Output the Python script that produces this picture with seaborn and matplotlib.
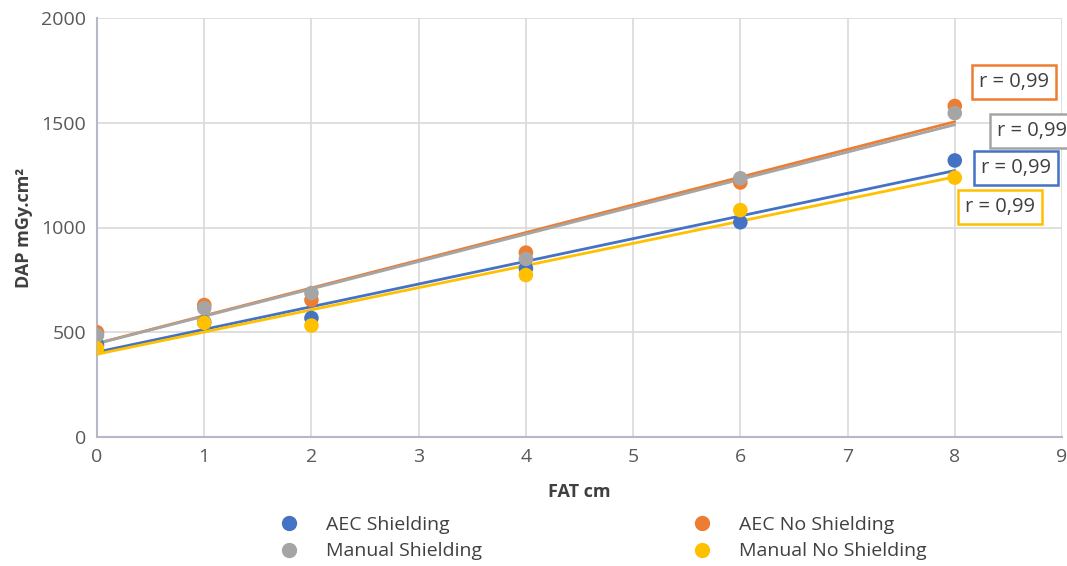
import numpy as np
import pandas as pd
import matplotlib
matplotlib.use("Agg")
import matplotlib.pyplot as plt
import seaborn as sns
from matplotlib.lines import Line2D

fat = [0, 1, 2, 4, 6, 8]
aec_shielding = [440, 548, 568, 805, 1025, 1320]
aec_no_shielding = [500, 630, 654, 880, 1215, 1580]
manual_shielding = [485, 615, 687, 850, 1235, 1546]
manual_no_shielding = [423, 545, 532, 773, 1083, 1238]

series_names = ["AEC Shielding", "AEC No Shielding", "Manual Shielding", "Manual No Shielding"]
series_vals = [aec_shielding, aec_no_shielding, manual_shielding, manual_no_shielding]
colors = ["#4472C4", "#ED7D31", "#A5A5A5", "#FFC000"]
r_labels = ["r = 0,99", "r = 0,99", "r = 0,99", "r = 0,99"]

df = pd.DataFrame({
    "FAT": np.tile(fat, len(series_names)),
    "DAP": np.concatenate(series_vals),
    "Series": np.repeat(series_names, len(fat)),
})

sns.set_theme(style="white")
plt.rcParams['font.family'] = ['Open Sans', 'DejaVu Sans']

fig = plt.figure(figsize=(10.67, 5.66), dpi=100)
ax = fig.add_axes([97/1067, 1-437/566, (1062-97)/1067, (437-18)/566])

# trend lines
for name, col in zip(series_names, colors):
    sub = df[df["Series"] == name]
    sns.regplot(data=sub, x="FAT", y="DAP", ax=ax, scatter=False, ci=None,
                color=col, line_kws={"lw": 2.0, "zorder": 2})

sns.scatterplot(data=df, x="FAT", y="DAP", hue="Series", hue_order=series_names,
                palette=colors, s=110, edgecolor="none", ax=ax, zorder=3, legend=False)

ax.set_xlim(0, 9)
ax.set_ylim(0, 2000)
ax.set_xticks(range(0, 10))
ax.set_yticks([0, 500, 1000, 1500, 2000])
ax.grid(True, color="#D9D9D9", lw=1.2)
ax.set_axisbelow(True)
for s in ["top", "right"]:
    ax.spines[s].set_visible(False)
ax.spines["left"].set_color("#B4B8C8")
ax.spines["bottom"].set_color("#B4B8C8")
ax.spines["left"].set_linewidth(1.5)
ax.spines["bottom"].set_linewidth(1.5)
ax.tick_params(axis="both", labelsize=14, colors="#595959", length=0, pad=8)
ax.set_xlabel("FAT cm", fontsize=13, fontweight="bold", color="#404040", labelpad=12)
ax.set_ylabel("DAP mGy.cm²", fontsize=13, fontweight="bold", color="#404040", labelpad=6)

# r labels
label_pos = [(8.57, 1284), (8.55, 1695), (8.72, 1460), (8.42, 1098)]
for (xp, yp), col, txt in zip(label_pos, colors, r_labels):
    ax.text(xp, yp, txt, ha="center", va="center", fontsize=14.5, color="#404040",
            bbox=dict(boxstyle="square,pad=0.35", fc="white", ec=col, lw=1.8),
            zorder=5, clip_on=False)

# legend (row-wise order: AEC S, AEC NS / Manual S, Manual NS)
order = [0, 2, 1, 3]
handles = [Line2D([], [], marker="o", ls="none", color=colors[i], markersize=10) for i in order]
labels = [series_names[i] for i in order]
fig.legend(handles, labels, loc="center", ncol=2,
           bbox_to_anchor=(598/1067, 1-538/566), frameon=False,
           fontsize=14, labelcolor="#404040", columnspacing=10.3,
           handletextpad=0.9, labelspacing=0.45)

fig.savefig("out.png", dpi=100)
